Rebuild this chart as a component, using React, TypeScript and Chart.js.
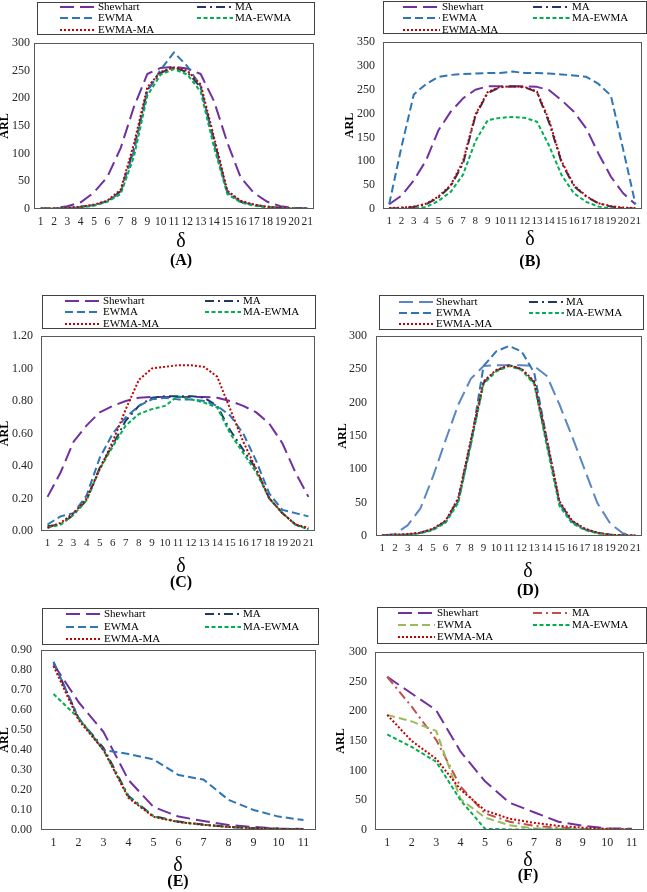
import React, { useEffect, useRef } from 'react';
import { Chart, registerables } from 'chart.js';

Chart.register(...registerables);

// ---------- categories ----------
const delta21 = ['1', '2', '3', '4', '5', '6', '7', '8', '9', '10', '11', '12', '13', '14', '15', '16', '17', '18', '19', '20', '21'];
const delta11 = ['1', '2', '3', '4', '5', '6', '7', '8', '9', '10', '11'];

const seriesNames = ['Shewhart', 'MA', 'EWMA', 'MA-EWMA', 'EWMA-MA'];

// ---------- panel A ----------
const shewhartA = [0, 1, 5, 12, 30, 58, 110, 185, 244, 255, 257, 254, 244, 195, 120, 57, 29, 13, 5, 2, 1];
const maA = [1, 1, 2, 4, 7, 14, 32, 110, 215, 246, 256, 247, 220, 125, 30, 13, 7, 4, 2, 1, 1];
const ewmaA = [1, 1, 2, 4, 7, 14, 30, 105, 212, 252, 283, 258, 222, 118, 30, 13, 7, 4, 2, 1, 1];
const maEwmaA = [0, 1, 2, 3, 6, 13, 27, 95, 205, 243, 253, 243, 212, 112, 27, 12, 6, 3, 2, 1, 0];
const ewmaMaA = [1, 1, 2, 4, 8, 15, 35, 118, 220, 248, 256, 250, 225, 130, 33, 15, 8, 4, 2, 1, 1];

// ---------- panel B ----------
const shewhartB = [10, 28, 60, 102, 165, 204, 232, 250, 257, 257, 257, 257, 256, 249, 228, 204, 169, 116, 68, 33, 10];
const maB = [1, 2, 4, 10, 24, 48, 95, 195, 243, 255, 257, 255, 245, 180, 97, 48, 26, 12, 5, 2, 1];
const ewmaB = [10, 130, 240, 262, 277, 281, 283, 284, 285, 285, 288, 285, 285, 284, 282, 280, 277, 262, 238, 125, 10];
const maEwmaB = [0, 0, 1, 4, 17, 36, 72, 142, 186, 191, 193, 191, 183, 132, 71, 33, 15, 5, 1, 0, 0];
const ewmaMaB = [2, 3, 5, 11, 26, 50, 100, 198, 245, 256, 257, 256, 246, 185, 100, 50, 27, 12, 6, 3, 2];

// ---------- panel C ----------
const shewhartC = [0.21, 0.36, 0.55, 0.65, 0.73, 0.77, 0.8, 0.82, 0.825, 0.825, 0.825, 0.825, 0.825, 0.82, 0.8, 0.77, 0.73, 0.66, 0.54, 0.36, 0.21];
const maC = [0.03, 0.04, 0.1, 0.19, 0.39, 0.53, 0.68, 0.77, 0.82, 0.83, 0.83, 0.83, 0.82, 0.77, 0.62, 0.5, 0.38, 0.2, 0.11, 0.04, 0.01];
const ewmaC = [0.04, 0.09, 0.11, 0.22, 0.45, 0.6, 0.7, 0.77, 0.81, 0.82, 0.81, 0.81, 0.8, 0.77, 0.71, 0.6, 0.43, 0.23, 0.13, 0.11, 0.09];
const maEwmaC = [0.02, 0.04, 0.1, 0.19, 0.38, 0.52, 0.65, 0.72, 0.75, 0.77, 0.83, 0.81, 0.79, 0.76, 0.6, 0.48, 0.36, 0.2, 0.11, 0.04, 0.01];
const ewmaMaC = [0.02, 0.05, 0.11, 0.2, 0.38, 0.55, 0.75, 0.93, 1.0, 1.01, 1.02, 1.02, 1.01, 0.95, 0.75, 0.55, 0.38, 0.2, 0.11, 0.04, 0.02];

// ---------- panel D ----------
const shewhartD = [0, 3, 16, 41, 89, 144, 197, 236, 255, 256, 256, 256, 255, 240, 197, 149, 99, 49, 19, 4, 0];
const maD = [1, 2, 2, 5, 10, 22, 55, 142, 230, 248, 256, 250, 230, 140, 50, 22, 10, 5, 2, 1, 0];
const ewmaD = [1, 2, 2, 5, 10, 21, 52, 138, 255, 277, 285, 277, 245, 145, 48, 21, 10, 5, 2, 1, 0];
const maEwmaD = [0, 1, 2, 4, 9, 20, 50, 138, 228, 247, 255, 249, 228, 135, 45, 19, 9, 4, 2, 1, 0];
const ewmaMaD = [1, 2, 3, 5, 11, 23, 57, 145, 232, 249, 256, 251, 232, 145, 52, 23, 11, 5, 2, 1, 1];

// ---------- panel E ----------
const shewhartE = [0.83, 0.64, 0.49, 0.25, 0.115, 0.067, 0.045, 0.025, 0.015, 0.008, 0.005];
const maE = [0.84, 0.56, 0.41, 0.17, 0.07, 0.042, 0.027, 0.016, 0.01, 0.006, 0.003];
const ewmaE = [0.84, 0.56, 0.4, 0.38, 0.353, 0.275, 0.252, 0.151, 0.1, 0.067, 0.05];
const maEwmaE = [0.68, 0.56, 0.4, 0.165, 0.068, 0.04, 0.026, 0.015, 0.009, 0.005, 0.003];
const ewmaMaE = [0.82, 0.55, 0.4, 0.16, 0.066, 0.04, 0.026, 0.015, 0.009, 0.005, 0.003];

// ---------- panel F ----------
const shewhartF = [258, 230, 202, 132, 82, 46, 30, 14, 7, 3, 2];
const maF = [258, 208, 152, 73, 28, 14, 7, 4, 2, 1, 1];
const ewmaF = [194, 183, 167, 52, 21, 8, 3, 2, 1, 1, 0];
const maEwmaF = [161, 140, 115, 50, 2, 1, 1, 1, 1, 1, 1];
const ewmaMaF = [194, 150, 120, 68, 33, 19, 12, 7, 4, 2, 1];

// ---------- styles ----------
const dashes: Record<string, number[]> = {
  Shewhart: [14, 6],
  MA: [9, 4, 2, 4],
  EWMA: [8, 4],
  'MA-EWMA': [4, 2.5],
  'EWMA-MA': [2, 2],
};
const colorsStd = ['#7030A0', '#1F3864', '#2E75B6', '#00B050', '#C00000'];
const colorsD = ['#5B86C5', '#1F3864', '#2E75B6', '#00B050', '#C00000'];
const colorsF = ['#7030A0', '#C0504D', '#9BBB59', '#00B050', '#C00000'];

const SERIF = '"Liberation Serif", "Times New Roman", serif';

type Legend = { x: number; y: number; w: number; h: number; col1: number; col2: number; len: number; row0: number; gap: number };
type PanelCfg = {
  left: number; top: number; w: number; h: number;
  labels: string[]; series: number[][]; colors: string[];
  yMax: number; yStep: number; decimals: number;
  area: { l: number; t: number; r: number; b: number };
  yPad: number; xFont: number;
  legend: Legend;
  arlX: number; deltaX: number; deltaY: number; tagY: number; tag: string;
};

const panels: PanelCfg[] = [
  {
    left: 0, top: 0, w: 323, h: 290, labels: delta21,
    series: [shewhartA, maA, ewmaA, maEwmaA, ewmaMaA], colors: colorsStd,
    yMax: 300, yStep: 50, decimals: 0,
    area: { l: 34, t: 43, r: 314, b: 209 }, yPad: 4, xFont: 11.5,
    legend: { x: 37, y: 2, w: 277, h: 32, col1: 60, col2: 197, len: 36, row0: 6.5, gap: 11.5 },
    arlX: 5, deltaX: 181, deltaY: 242, tagY: 261, tag: '(A)',
  },
  {
    left: 323, top: 0, w: 324, h: 290, labels: delta21,
    series: [shewhartB, maB, ewmaB, maEwmaB, ewmaMaB], colors: colorsStd,
    yMax: 350, yStep: 50, decimals: 0,
    area: { l: 60, t: 42, r: 323, b: 209 }, yPad: 8, xFont: 11,
    legend: { x: 60, y: 1, w: 263, h: 32, col1: 80, col2: 210, len: 37, row0: 6.5, gap: 11.5 },
    arlX: 27, deltaX: 207, deltaY: 240, tagY: 262, tag: '(B)',
  },
  {
    left: 0, top: 290, w: 323, h: 310, labels: delta21,
    series: [shewhartC, maC, ewmaC, maEwmaC, ewmaMaC], colors: colorsStd,
    yMax: 1.2, yStep: 0.2, decimals: 2,
    area: { l: 41, t: 46, r: 315, b: 241 }, yPad: 8, xFont: 11,
    legend: { x: 42, y: 5, w: 273, h: 33, col1: 65, col2: 205, len: 36, row0: 11, gap: 11.3 },
    arlX: 5, deltaX: 181, deltaY: 277, tagY: 293, tag: '(C)',
  },
  {
    left: 323, top: 290, w: 324, h: 310, labels: delta21,
    series: [shewhartD, maD, ewmaD, maEwmaD, ewmaMaD], colors: colorsD,
    yMax: 300, yStep: 50, decimals: 0,
    area: { l: 53, t: 46, r: 322, b: 246 }, yPad: 9, xFont: 11,
    legend: { x: 56, y: 5, w: 264, h: 34, col1: 76, col2: 206, len: 35, row0: 11.5, gap: 11 },
    arlX: 20, deltaX: 205, deltaY: 282, tagY: 301, tag: '(D)',
  },
  {
    left: 0, top: 600, w: 323, h: 292, labels: delta11,
    series: [shewhartE, maE, ewmaE, maEwmaE, ewmaMaE], colors: colorsStd,
    yMax: 0.9, yStep: 0.1, decimals: 2,
    area: { l: 41, t: 50, r: 316, b: 230 }, yPad: 9, xFont: 12,
    legend: { x: 42, y: 8, w: 276, h: 36, col1: 66, col2: 205, len: 36, row0: 14, gap: 12.5 },
    arlX: 5, deltaX: 178, deltaY: 266, tagY: 282, tag: '(E)',
  },
  {
    left: 323, top: 600, w: 324, h: 292, labels: delta11,
    series: [shewhartF, maF, ewmaF, maEwmaF, ewmaMaF], colors: colorsF,
    yMax: 300, yStep: 50, decimals: 0,
    area: { l: 52, t: 52, r: 321, b: 230 }, yPad: 8, xFont: 12,
    legend: { x: 54, y: 7, w: 269, h: 36, col1: 75, col2: 210, len: 37, row0: 13, gap: 12 },
    arlX: 18, deltaX: 205, deltaY: 261, tagY: 276, tag: '(F)',
  },
];

function makeDecor(cfg: PanelCfg) {
  return {
    id: 'decor',
    afterDraw(chart: any) {
      const ctx: CanvasRenderingContext2D = chart.ctx;
      const ca = chart.chartArea;
      ctx.save();
      // plot frame
      ctx.strokeStyle = '#595959';
      ctx.lineWidth = 1;
      ctx.setLineDash([]);
      ctx.strokeRect(Math.round(ca.left) + 0.5, Math.round(ca.top) + 0.5, Math.round(ca.right - ca.left) - 1, Math.round(ca.bottom - ca.top) - 1);
      // legend box
      const lg = cfg.legend;
      ctx.strokeStyle = '#404040';
      ctx.strokeRect(lg.x + 0.5, lg.y + 0.5, lg.w, lg.h);
      ctx.font = `11px ${SERIF}`;
      ctx.textBaseline = 'middle';
      ctx.textAlign = 'left';
      ctx.fillStyle = '#000';
      chart.data.datasets.forEach((ds: any, i: number) => {
        const col = i % 2;
        const row = Math.floor(i / 2);
        const sx = col === 0 ? lg.col1 : lg.col2;
        const y = Math.round(lg.row0 + row * lg.gap);
        ctx.save();
        ctx.strokeStyle = ds.borderColor;
        ctx.lineWidth = 2;
        ctx.setLineDash(ds.borderDash || []);
        ctx.beginPath();
        ctx.moveTo(sx, y);
        ctx.lineTo(sx + lg.len, y);
        ctx.stroke();
        ctx.restore();
        ctx.fillText(ds.label, sx + lg.len + 2, y + 0.5);
      });
      // y axis title
      ctx.save();
      ctx.font = `bold 12px ${SERIF}`;
      ctx.textAlign = 'center';
      ctx.textBaseline = 'middle';
      ctx.translate(cfg.arlX, (ca.top + ca.bottom) / 2);
      ctx.rotate(-Math.PI / 2);
      ctx.fillText('ARL', 0, 0);
      ctx.restore();
      // x axis title and panel tag
      ctx.textAlign = 'center';
      ctx.textBaseline = 'middle';
      ctx.font = `20px ${SERIF}`;
      ctx.fillText('δ', cfg.deltaX, cfg.deltaY);
      ctx.font = `bold 16px ${SERIF}`;
      ctx.fillText(cfg.tag, cfg.deltaX, cfg.tagY);
      ctx.restore();
    },
  };
}

function Panel({ cfg }: { cfg: PanelCfg }) {
  const ref = useRef<HTMLCanvasElement | null>(null);
  useEffect(() => {
    if (!ref.current) return;
    const xAxisH = 20;
    const chart = new Chart(ref.current, {
      type: 'line',
      data: {
        labels: cfg.labels,
        datasets: cfg.series.map((data, i) => ({
          label: seriesNames[i],
          data,
          borderColor: cfg.colors[i],
          backgroundColor: cfg.colors[i],
          borderWidth: 2,
          borderDash: dashes[seriesNames[i]],
          borderCapStyle: 'butt',
          borderJoinStyle: 'round',
          pointRadius: 0,
          pointHoverRadius: 0,
          fill: false,
          tension: 0,
          order: 4 - i,
        })),
      },
      options: {
        animation: false,
        responsive: false,
        devicePixelRatio: 1,
        events: [],
        layout: {
          padding: {
            left: 0,
            top: cfg.area.t,
            right: cfg.w - cfg.area.r,
            bottom: cfg.h - cfg.area.b - xAxisH,
          },
        },
        plugins: {
          legend: { display: false },
          tooltip: { enabled: false },
          title: { display: false },
        },
        scales: {
          x: {
            type: 'category',
            offset: true,
            grid: { display: false, drawTicks: false },
            border: { display: false },
            ticks: {
              autoSkip: false,
              maxRotation: 0,
              minRotation: 0,
              padding: 6,
              color: '#262626',
              font: { family: SERIF, size: cfg.xFont },
            },
            afterFit: (s: any) => { s.height = xAxisH; },
          },
          y: {
            min: 0,
            max: cfg.yMax,
            grid: { display: false, drawTicks: false },
            border: { display: false },
            ticks: {
              stepSize: cfg.yStep,
              padding: cfg.yPad,
              color: '#262626',
              font: { family: SERIF, size: 12 },
              callback: (v: any) => Number(v).toFixed(cfg.decimals),
            },
            afterFit: (s: any) => { s.width = cfg.area.l; },
          },
        },
      },
      plugins: [makeDecor(cfg)],
    } as any);
    return () => chart.destroy();
  }, [cfg]);
  return (
    <canvas
      ref={ref}
      width={cfg.w}
      height={cfg.h}
      style={{ position: 'absolute', left: cfg.left, top: cfg.top, width: cfg.w, height: cfg.h }}
    />
  );
}

export default function App() {
  return (
    <div style={{ position: 'fixed', left: 0, top: 0, width: 647, height: 892, background: '#fff', overflow: 'hidden' }}>
      {panels.map((p) => (
        <Panel key={p.tag} cfg={p} />
      ))}
    </div>
  );
}
